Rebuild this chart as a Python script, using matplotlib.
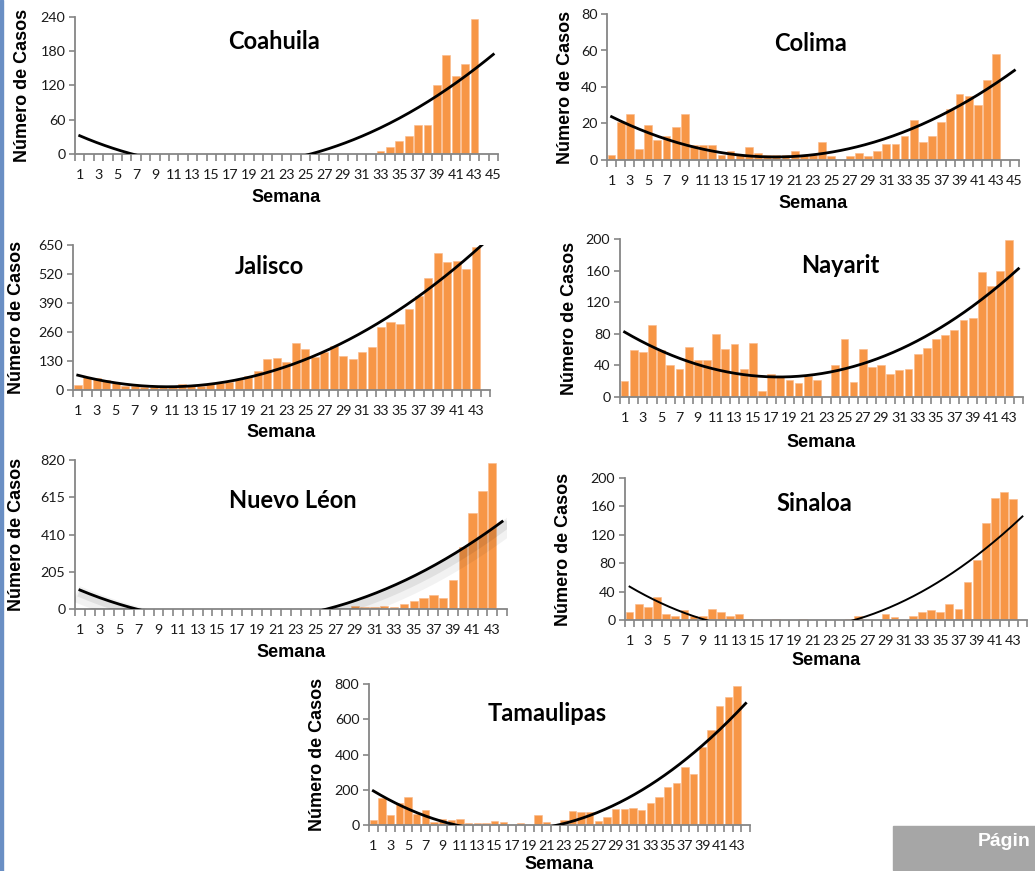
import numpy as np
import matplotlib
matplotlib.use("Agg")
import matplotlib.pyplot as plt
import matplotlib.patheffects as pe
from matplotlib.patches import Rectangle

W, H = 1035, 871

# casos por semana epidemiologica (semanas 1..43)
coahuila = [0, 0, 0, 0, 0, 0, 0, 0, 0, 0, 0, 0, 0, 0, 0, 0, 0, 0, 0, 0,
            0, 0, 0, 0, 0, 0, 0, 0, 0, 0, 0, 0, 6, 12, 23, 31, 50, 50, 120, 173,
            136, 157, 237]
colima = [3, 21, 25, 6, 19, 11, 13, 18, 25, 8, 8, 8, 3, 5, 3, 7, 4, 3, 3, 3,
          5, 3, 3, 10, 2, 0, 2, 4, 2, 5, 9, 9, 13, 22, 10, 13, 21, 28, 36, 35,
          30, 44, 58]
jalisco = [24, 57, 55, 46, 32, 17, 20, 15, 14, 14, 15, 28, 18, 20, 25, 30, 38, 48, 64, 84,
           139, 145, 126, 211, 182, 150, 172, 197, 152, 139, 169, 193, 281, 303, 296, 362, 421, 501, 614, 572,
           577, 543, 640]
nayarit = [20, 60, 57, 91, 60, 41, 36, 63, 47, 47, 80, 61, 67, 36, 68, 8, 29, 26, 22, 18,
           26, 22, 0, 41, 74, 19, 61, 38, 40, 29, 34, 36, 55, 62, 73, 79, 85, 98, 100, 158,
           140, 159, 199]
nuevo_leon = [0, 0, 0, 0, 0, 0, 0, 0, 0, 0, 0, 0, 0, 0, 0, 0, 0, 0, 0, 0,
              0, 0, 0, 0, 0, 0, 0, 0, 15, 13, 10, 14, 10, 30, 45, 59, 79, 59, 160, 340,
              527, 651, 805]
sinaloa = [11, 22, 18, 33, 8, 6, 14, 5, 5, 15, 11, 6, 9, 2, 0, 0, 2, 0, 0, 2,
           0, 0, 0, 0, 1, 6, 0, 0, 9, 4, 0, 6, 11, 14, 11, 23, 16, 53, 85, 136,
           172, 180, 170]
tamaulipas = [28, 155, 58, 125, 157, 60, 85, 17, 36, 26, 34, 9, 13, 11, 23, 19, 0, 13, 0, 55,
              19, 0, 26, 79, 74, 74, 25, 45, 89, 89, 98, 85, 123, 157, 215, 240, 328, 289, 442, 540,
              675, 725, 789]

ORANGE = '#F79646'
AXIS = '#868686'
TICK_FONT = 'Lato'
LABEL_FONT = 'Liberation Sans'


def px_box(left, top, right, bottom):
    return [left / W, 1 - bottom / H, (right - left) / W, (bottom - top) / H]


fig = plt.figure(figsize=(W / 100, H / 100), dpi=100)


def panel(box, nombre, casos, n_sem, ymax, ystep, title_xy, ylab_x, xlab_y,
          lw=2.0, shadow=False):
    ax = fig.add_axes(px_box(*box))
    sem = np.arange(1, len(casos) + 1)
    ax.bar(sem, casos, width=0.85, color=ORANGE, edgecolor='#FAB98A', linewidth=0.4, zorder=2)

    # linea de tendencia polinomica (orden 2)
    coef = np.polyfit(sem, casos, 2)
    xs = np.linspace(1, n_sem, 300)
    line, = ax.plot(xs, np.polyval(coef, xs), color='black', lw=lw, zorder=3)
    if shadow:
        line.set_path_effects([pe.SimpleLineShadow(offset=(3, -5), alpha=0.05, linewidth=12),
                               pe.SimpleLineShadow(offset=(2, -3), alpha=0.07, linewidth=6),
                               pe.Normal()])

    ax.set_xlim(0.5, n_sem + 0.5)
    ax.set_ylim(0, ymax)
    ax.set_yticks(np.arange(0, ymax + 1, ystep))
    ax.set_xticks(np.arange(1, n_sem + 1, 2))
    ax.set_xticks(np.arange(0.5, n_sem + 1, 1), minor=True)

    for s in ['top', 'right']:
        ax.spines[s].set_visible(False)
    for s in ['left', 'bottom']:
        ax.spines[s].set_color(AXIS)
        ax.spines[s].set_linewidth(1.3)
    ax.tick_params(axis='x', which='major', length=0, pad=11)
    ax.tick_params(axis='x', which='minor', length=5, width=1.2, color=AXIS)
    ax.tick_params(axis='y', length=4, width=1.2, color=AXIS, pad=3)
    for lab in ax.get_xticklabels() + ax.get_yticklabels():
        lab.set_fontfamily(TICK_FONT)
        lab.set_fontsize(10.3)
        lab.set_color('#1a1a1a')

    ax.text(title_xy[0], title_xy[1], nombre, transform=ax.transAxes,
            ha='center', va='center', fontsize=17, fontweight='bold', family=TICK_FONT)

    cx = (box[0] + box[2]) / 2
    cy = (box[1] + box[3]) / 2
    fig.text(ylab_x / W, 1 - cy / H, 'Número de Casos', rotation=90, ha='center', va='center',
             fontsize=13, fontweight='bold', family=LABEL_FONT)
    fig.text(cx / W, 1 - xlab_y / H, 'Semana', ha='center', va='center',
             fontsize=13, fontweight='bold', family=LABEL_FONT)
    return ax


panel((75, 17, 498, 154), 'Coahuila', coahuila, 45, 240, 60, (0.47, 0.82), 23, 197)
panel((607, 14, 1019, 160), 'Colima', colima, 45, 80, 20, (0.495, 0.80), 565, 203)
panel((73, 245, 490, 390), 'Jalisco', jalisco, 44, 650, 130, (0.47, 0.85), 17, 432)
panel((620, 239, 1023, 397), 'Nayarit', nayarit, 44, 200, 40, (0.546, 0.835), 569, 442)
panel((75, 460, 507, 609), 'Nuevo Léon', nuevo_leon, 44, 820, 205, (0.505, 0.73), 17, 652,
      shadow=True)
panel((625, 478, 1027, 620), 'Sinaloa', sinaloa, 44, 200, 40, (0.47, 0.82), 564, 660, lw=1.4)
panel((369, 684, 750, 825), 'Tamaulipas', tamaulipas, 44, 800, 200, (0.467, 0.79), 317, 864)

# borde azul izquierdo y recuadro de pagina
fig.patches.append(Rectangle((0, 0), 3 / W, 1, transform=fig.transFigure,
                             color='#6A8FC4', zorder=0))
fig.patches.append(Rectangle((893 / W, 1 - 870 / H), (W - 893) / W, 44 / H,
                             transform=fig.transFigure, color='#A6A6A6', zorder=0))
fig.text(978 / W, 1 - 841 / H, 'Págin', ha='left', va='center', color='white',
         fontsize=14, fontweight='bold', family=LABEL_FONT)

fig.savefig('out.png', dpi=100)
